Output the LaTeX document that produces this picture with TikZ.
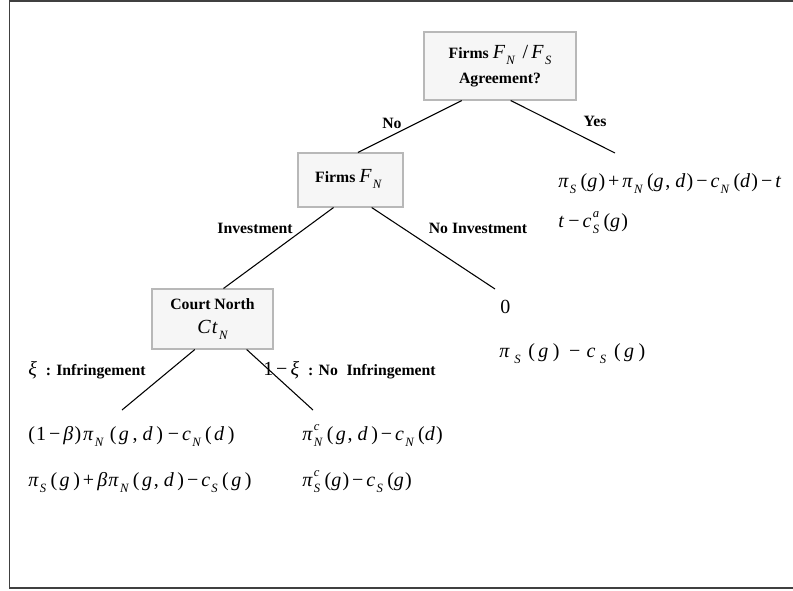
\documentclass[tikz,border=0pt]{standalone}
\usepackage{fontspec}
\setmainfont{Liberation Serif}
\newfontfamily\mathfam{Liberation Serif}[LetterSpace=6]
\usetikzlibrary{calc}
\definecolor{boxline}{HTML}{B8B8B8}
\definecolor{boxfill}{HTML}{F6F6F6}
\definecolor{framecol}{HTML}{404040}
\newcommand\I[1]{\textit{#1}}
\newcommand\sbs[1]{\raisebox{-0.3em}{\fontsize{9.5}{10}\selectfont\itshape #1}\hspace{0.22em}}
\newcommand\sbsp[2]{\rlap{\raisebox{0.5em}{\fontsize{9.5}{10}\selectfont\itshape #2}}\sbs{#1}}
\newcommand\mn{\hspace{0.15em}−\hspace{0.15em}}
\newcommand\pl{\hspace{0.15em}+\hspace{0.15em}}
\newcommand\cm{\hspace{0.03em},\hspace{0.25em}}
\newcommand\wpar[1]{(\hspace{0.12em}#1\hspace{0.12em})}
\newcommand\mfont{\mathfam\fontsize{15}{17}\selectfont}
\begin{document}
\begin{tikzpicture}[x=0.75pt,y=-0.75pt,
  box/.style={draw=boxline, fill=boxfill, line width=0.8pt, inner sep=0pt, align=center, font=\fontsize{11.8}{18.5}\selectfont},
  edge/.style={draw=black, line width=0.8pt},
  lbl/.style={anchor=base, font=\fontsize{11.8}{14}\selectfont\bfseries, inner sep=0pt},
  lblw/.style={anchor=base west, font=\fontsize{11.8}{14}\selectfont\bfseries, inner sep=0pt},
  pay/.style={anchor=base west, font=\mfont, inner sep=0pt}]
\useasboundingbox (0,0) rectangle (793,590);
\draw[framecol, line width=1.2pt] (793,1) -- (9.5,1) -- (9.5,588) -- (793,588);

\node[box, minimum width=114pt, minimum height=51pt] (top) at (500,66)
  {\textbf{Firms} {\mfont\I{F}\sbs{N}\,/\,\I{F}\sbs{S}}\\ \textbf{Agreement?}};
\node[box, minimum width=78.75pt, minimum height=40.5pt] (fn) at (350.5,180)
  {\raisebox{6pt}{\textbf{Firms} {\mfont\I{F}\sbs{N}}}};
\node[box, minimum width=90.75pt, minimum height=45pt] (ct) at (212.5,319)
  {\textbf{Court North}\\ {\mfont\I{Ct}\sbs{N}}};

\coordinate (yesend) at (615,153);
\coordinate (noinvend) at (495,289);
\coordinate (infend) at (122,410);
\coordinate (noinfend) at (313,410);

\draw[edge] ($(top.south west)!.25!(top.south east)$) -- ($(fn.north west)!.57!(fn.north east)$);
\draw[edge] ($(top.south west)!.57!(top.south east)$) -- (yesend);
\draw[edge] ($(fn.south west)!.34!(fn.south east)$) -- ($(ct.north west)!.59!(ct.north east)$);
\draw[edge] ($(fn.south west)!.70!(fn.south east)$) -- (noinvend);
\draw[edge] ($(ct.south west)!.355!(ct.south east)$) -- (infend);
\draw[edge] ($(ct.south west)!.78!(ct.south east)$) -- (noinfend);

\node[lbl] (lno) at (392,128) {No};
\node[lbl] (lyes) at (595,126) {Yes};
\node[lbl] (linv) at (255,233) {Investment};
\node[lbl] (lnoinv) at (478,233) {No Investment};
\node[lblw] (linf) at (28,375) {{\mfont\mdseries\I{ξ}}\ \ : Infringement};
\node[lblw] (lnoinf) at (263,375) {{\mfont\mdseries 1\mn\I{ξ}}\ \ : No\hspace{0.55em}Infringement};

\node[pay] (p1) at (558,187) {\I{π}\sbs{S}(\I{g})\pl\I{π}\sbs{N}(\I{g}\cm\I{d})\mn\I{c}\sbs{N}(\I{d})\mn\I{t}};
\node[pay] (p2) at (558,227) {\I{t}\mn\I{c}\sbsp{S}{a}(\I{g})};
\node[pay] (p3) at (500,313) {0};
\node[pay] (p4) at (499,357) {\I{π}\,\sbs{S}\,(\,\I{g}\,)\, − \I{c}\,\sbs{S}\,(\,\I{g}\,)};
\node[pay] (p5) at (28,440) {(1\mn\I{β})\hspace{0.1em}\I{π}\sbs{N}\hspace{0.1em}\wpar{\I{g}\hspace{0.1em}\cm\I{d}}\hspace{0.1em}\mn\I{c}\sbs{N}\wpar{\I{d}}};
\node[pay] (p6) at (28,486) {\I{π}\sbs{S}\wpar{\I{g}}\pl\I{β}\I{π}\sbs{N}\wpar{\I{g}\cm\I{d}}\mn\I{c}\sbs{S}\wpar{\I{g}}};
\node[pay] (p7) at (302,440) {\I{π}\sbsp{N}{c}\wpar{\I{g}\cm\I{d}}\mn\I{c}\sbs{N}(\I{d})};
\node[pay] (p8) at (302,486) {\I{π}\sbsp{S}{c}(\I{g})\mn\I{c}\sbs{S}(\I{g})};
\end{tikzpicture}
\end{document}
